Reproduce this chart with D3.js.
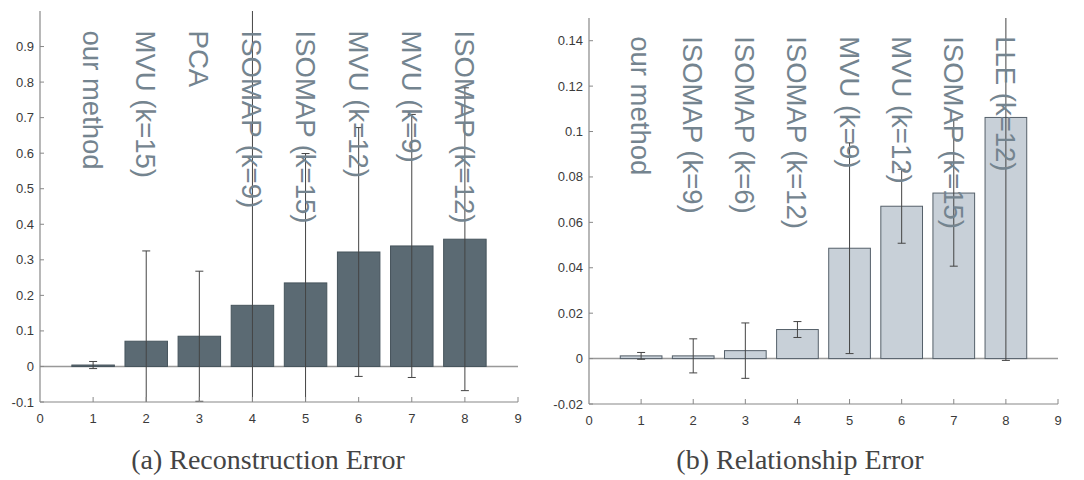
<!DOCTYPE html>
<html lang="en">
<head>
<meta charset="utf-8">
<title>Reconstruction and Relationship Error</title>
<script src="https://d3js.org/d3.v7.min.js"></script>
<style>
  body { margin: 0; background: #fff; }
  .tick-label { font-family: "Liberation Sans", Arial, sans-serif; font-size: 13px; fill: #3a3a3a; }
  .method { font-family: "Liberation Sans", Arial, sans-serif; font-size: 27.5px; fill: #74848f; }
  .caption { font-family: "Liberation Serif", "DejaVu Serif", serif; font-size: 28px; fill: #444; }
</style>
</head>
<body>
<script>
// values
var leftLabels = ["our method", "MVU (k=15)", "PCA", "ISOMAP (k=9)", "ISOMAP (k=15)", "MVU (k=12)", "MVU (k=9)", "ISOMAP (k=12)"];
var leftValues = [0.004, 0.071, 0.085, 0.172, 0.235, 0.322, 0.339, 0.358];
var leftErrors = [0.010, 0.254, 0.183, 0.95, 0.364, 0.350, 0.370, 0.426];
var leftTicks = [-0.1, 0, 0.1, 0.2, 0.3, 0.4, 0.5, 0.6, 0.7, 0.8, 0.9];

var rightLabels = ["our method", "ISOMAP (k=9)", "ISOMAP (k=6)", "ISOMAP (k=12)", "MVU (k=9)", "MVU (k=12)", "ISOMAP (k=15)", "LLE (k=12)"];
var rightValues = [0.0012, 0.0012, 0.0035, 0.0128, 0.0486, 0.0671, 0.0729, 0.1062];
var rightErrors = [0.0015, 0.0075, 0.0122, 0.0035, 0.0464, 0.0163, 0.0322, 0.107];
var rightTicks = [-0.02, 0, 0.02, 0.04, 0.06, 0.08, 0.1, 0.12, 0.14];

var xTicks = [0, 1, 2, 3, 4, 5, 6, 7, 8, 9];

var width = 1084, height = 480;
var svg = d3.select("body").append("svg")
    .attr("width", width)
    .attr("height", height);

function drawPanel(opts) {
    var x = d3.scaleLinear().domain([0, 9]).range([opts.left, opts.right]);
    var y = d3.scaleLinear().domain(opts.yDomain).range([opts.bottom, opts.top]);
    var g = svg.append("g");

    g.append("clipPath").attr("id", opts.id + "-clip")
        .append("rect")
        .attr("x", opts.left).attr("y", opts.top)
        .attr("width", opts.right - opts.left).attr("height", opts.bottom - opts.top);

    // zero line
    g.append("line")
        .attr("x1", x(0)).attr("x2", x(9))
        .attr("y1", y(0)).attr("y2", y(0))
        .attr("stroke", "#999").attr("stroke-width", 1.5);

    var idx = d3.range(opts.values.length);

    // bars
    g.selectAll("rect.bar").data(idx).enter().append("rect")
        .attr("class", "bar")
        .attr("x", function(i) { return x(i + 1 - 0.4); })
        .attr("width", x(0.8) - x(0))
        .attr("y", function(i) { return y(opts.values[i]); })
        .attr("height", function(i) { return Math.max(1.5, y(0) - y(opts.values[i])); })
        .attr("fill", opts.fill)
        .attr("stroke", opts.stroke)
        .attr("stroke-width", 1);

    // error bars (clipped to the axes)
    var eb = g.append("g").attr("clip-path", "url(#" + opts.id + "-clip)")
        .attr("stroke", "#444").attr("stroke-width", 1);
    idx.forEach(function(i) {
        var cx = x(i + 1);
        var lo = opts.values[i] - opts.errors[i];
        var hi = opts.values[i] + opts.errors[i];
        eb.append("line").attr("x1", cx).attr("x2", cx).attr("y1", y(lo)).attr("y2", y(hi));
        eb.append("line").attr("x1", cx - 4).attr("x2", cx + 4).attr("y1", y(lo)).attr("y2", y(lo));
        eb.append("line").attr("x1", cx - 4).attr("x2", cx + 4).attr("y1", y(hi)).attr("y2", y(hi));
    });

    // axes lines
    g.append("line")
        .attr("x1", opts.left).attr("x2", opts.left)
        .attr("y1", opts.top).attr("y2", opts.bottom)
        .attr("stroke", "#888").attr("stroke-width", 1.2);
    g.append("line")
        .attr("x1", opts.left).attr("x2", opts.right)
        .attr("y1", opts.bottom).attr("y2", opts.bottom)
        .attr("stroke", "#888").attr("stroke-width", 1.2);

    // y ticks
    g.selectAll("line.yt").data(opts.yTicks).enter().append("line")
        .attr("x1", opts.left).attr("x2", opts.left + 4)
        .attr("y1", function(d) { return y(d); }).attr("y2", function(d) { return y(d); })
        .attr("stroke", "#888");
    g.selectAll("text.yl").data(opts.yTicks).enter().append("text")
        .attr("class", "tick-label")
        .attr("x", opts.left - 6)
        .attr("y", function(d) { return y(d) + 4.5; })
        .attr("text-anchor", "end")
        .text(function(d) { return String(d); });

    // x ticks
    g.selectAll("line.xt").data(xTicks.slice(1)).enter().append("line")
        .attr("x1", function(d) { return x(d); }).attr("x2", function(d) { return x(d); })
        .attr("y1", opts.bottom).attr("y2", opts.bottom - 5)
        .attr("stroke", "#888");
    g.selectAll("text.xl").data(xTicks).enter().append("text")
        .attr("class", "tick-label")
        .attr("x", function(d) { return x(d); })
        .attr("y", opts.bottom + 21)
        .attr("text-anchor", "middle")
        .text(function(d) { return d; });

    // method names, rotated, on top
    g.selectAll("text.method").data(idx).enter().append("text")
        .attr("class", "method")
        .attr("transform", function(i) {
            return "translate(" + (x(i + 1) - 10) + "," + y(opts.labelY) + ") rotate(90)";
        })
        .attr("text-anchor", "start")
        .text(function(i) { return opts.labels[i]; });

    g.append("text")
        .attr("class", "caption")
        .attr("x", opts.captionX)
        .attr("y", 469)
        .attr("text-anchor", "middle")
        .text(opts.caption);
}

drawPanel({
    id: "a", left: 40, right: 518, top: 11, bottom: 402,
    yDomain: [-0.1, 1.0], yTicks: leftTicks,
    values: leftValues, errors: leftErrors, labels: leftLabels, labelY: 0.945,
    fill: "#5b6a73", stroke: "#46545c",
    caption: "(a) Reconstruction Error", captionX: 268
});

drawPanel({
    id: "b", left: 589, right: 1058, top: 18, bottom: 404,
    yDomain: [-0.02, 0.15], yTicks: rightTicks,
    values: rightValues, errors: rightErrors, labels: rightLabels, labelY: 0.142,
    fill: "#c8d0d8", stroke: "#55606a",
    caption: "(b) Relationship Error", captionX: 800
});
</script>
</body>
</html>
